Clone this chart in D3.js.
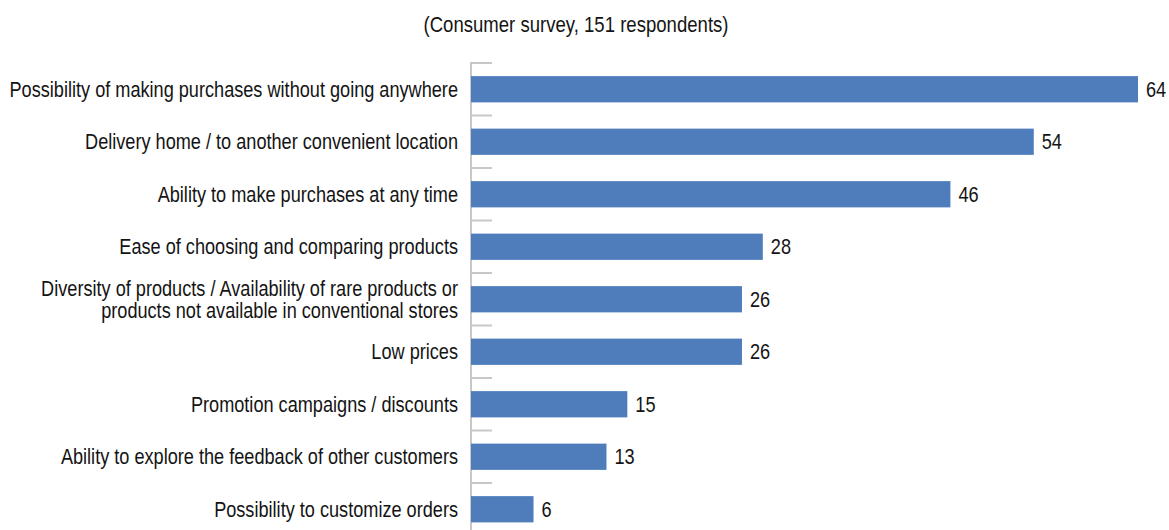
<!DOCTYPE html>
<html>
<head>
<meta charset="utf-8">
<script src="https://cdn.jsdelivr.net/npm/d3@7"></script>
<style>
  html, body { margin: 0; padding: 0; background: #fff; }
  svg { display: block; }
  text { font-family: "Liberation Sans", Arial, sans-serif; font-size: 21.5px; fill: #141414; }
</style>
</head>
<body>
<svg id="chart" width="1169" height="530"></svg>
<script>
// Reasons for buying online, share of respondents (%)
const categories = [
  ["Possibility of making purchases without going anywhere"],
  ["Delivery home / to another convenient location"],
  ["Ability to make purchases at any time"],
  ["Ease of choosing and comparing products"],
  ["Diversity of products / Availability of rare products or", "products not available in conventional stores"],
  ["Low prices"],
  ["Promotion campaigns / discounts"],
  ["Ability to explore the feedback of other customers"],
  ["Possibility to customize orders"]
];
const values = [64, 54, 46, 28, 26, 26, 15, 13, 6];
const subtitle = "(Consumer survey, 151 respondents)";

const svg = d3.select("#chart");

// Condensed look: regular sans squeezed horizontally so the longest label spans 449px
const probe = svg.append("text").text(categories[0][0]);
const sx = 449 / probe.node().getComputedTextLength();
probe.remove();

const x = d3.scaleLinear().domain([0, 64]).range([471, 1138]);
const y = d3.scaleBand()
  .domain(d3.range(categories.length))
  .range([63, 63 + 52.5 * categories.length])
  .paddingInner(0.5)
  .paddingOuter(0.25);

svg.append("text")
  .attr("transform", `translate(576, 32) scale(${sx}, 1)`)
  .attr("text-anchor", "middle")
  .style("font-size", "22px")
  .text(subtitle);

// Category axis: vertical line with ticks between categories
const step = y.step();
const axisG = svg.append("g");
axisG.append("line")
  .attr("x1", 471).attr("x2", 471)
  .attr("y1", 63).attr("y2", 530)
  .attr("stroke", "#c8c8c8").attr("stroke-width", 2);
const tickYs = d3.range(categories.length + 1).map(i => y.range()[0] + i * step);
axisG.selectAll("line.tick").data(tickYs).join("line")
  .attr("class", "tick")
  .attr("x1", 470).attr("x2", 492)
  .attr("y1", d => d).attr("y2", d => d)
  .attr("stroke", "#c8c8c8").attr("stroke-width", 2);

// Bars
svg.append("g").selectAll("rect").data(values).join("rect")
  .attr("x", x(0))
  .attr("y", (d, i) => y(i))
  .attr("width", d => x(d) - x(0))
  .attr("height", y.bandwidth())
  .attr("fill", "#4f7dbc");

// Value labels
svg.append("g").selectAll("text").data(values).join("text")
  .attr("transform", (d, i) => `translate(${x(d) + 8}, ${y(i) + y.bandwidth() / 2}) scale(${sx}, 1)`)
  .attr("dy", "0.36em")
  .text(d => d);

// Category labels
const lab = svg.append("g").selectAll("text").data(categories).join("text")
  .attr("text-anchor", "end")
  .attr("transform", (d, i) => `translate(458, ${y(i) + y.bandwidth() / 2}) scale(${sx}, 1)`);
lab.selectAll("tspan").data(d => d.map((t, j) => ({ t, j, n: d.length }))).join("tspan")
  .attr("x", 0)
  .attr("y", d => (d.j - (d.n - 1) / 2) * 23)
  .attr("dy", "0.36em")
  .text(d => d.t);
</script>
</body>
</html>
